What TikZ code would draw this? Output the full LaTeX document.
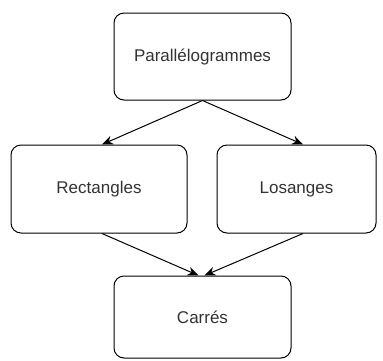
\documentclass[tikz,border=0pt]{standalone}
\usepackage{fontspec}
\setmainfont{Liberation Sans}
\usetikzlibrary{arrows.meta}
\begin{document}
\begin{tikzpicture}[x=1pt,y=-1pt,
  box/.style={draw=black, line width=1pt, rounded corners=10pt, fill=white,
    minimum width=177pt, minimum height=87pt, inner sep=0pt,
    font=\fontsize{17}{20}\selectfont, text=black!80},
  conn/.style={draw=black, line width=1pt, -{Stealth[length=11pt,width=9pt]}}]
\useasboundingbox (0,0) rectangle (383,360);
\node[box] (P) at (202.5,56.5) {Parallélogrammes};
\node[box, minimum width=176pt, minimum height=88pt] (R) at (99,189) {Rectangles};
\node[box, minimum width=159pt, minimum height=88pt] (L) at (296.5,189) {Losanges};
\node[box, minimum height=82pt] (C) at (202.5,317) {Carrés};
\draw[conn] (P.south) -- ([xshift=3pt]R.north);
\draw[conn] (P.south) -- ([xshift=6.5pt]L.north);
\draw[conn] ([xshift=3pt]R.south) -- ([xshift=-4pt]C.north);
\draw[conn] ([xshift=6.5pt]L.south) -- ([xshift=2pt]C.north);
\end{tikzpicture}
\end{document}
